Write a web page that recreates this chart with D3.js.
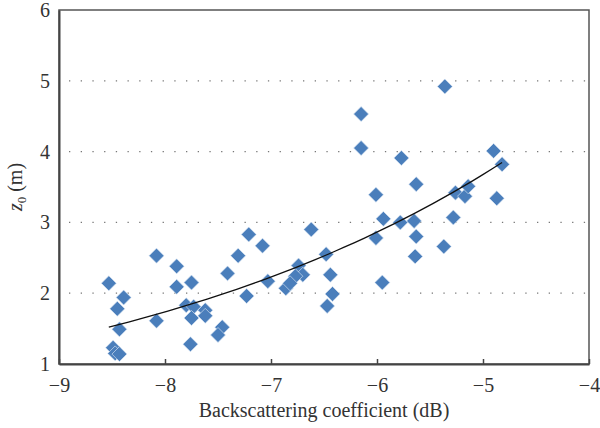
<!DOCTYPE html>
<html>
<head>
<meta charset="utf-8">
<script src="https://cdn.jsdelivr.net/npm/d3@7"></script>
<style>
  body { margin: 0; background: #fff; }
  text { font-family: "Liberation Serif", "DejaVu Serif", serif; fill: #333; }
</style>
</head>
<body>
<div id="chart"></div>
<script>
// Set up SVG frame
var svgWidth = 600;
var svgHeight = 428;

var Margin = { top: 10, right: 11, bottom: 64, left: 59 };

var width = svgWidth - Margin.left - Margin.right;
var height = svgHeight - Margin.top - Margin.bottom;

// data: backscattering coefficient (dB) and z0 (m)
var backscatter = [
  -8.53, -8.39, -8.45, -8.43, -8.49, -8.47, -8.43,
  -8.08, -8.08, -7.89, -7.89, -7.75, -7.80, -7.73, -7.75, -7.62, -7.62, -7.76,
  -7.46, -7.50, -7.41, -7.31, -7.21, -7.08, -7.23, -7.03,
  -6.86, -6.74, -6.70, -6.77, -6.82, -6.62, -6.48, -6.44, -6.42, -6.47,
  -6.01, -5.63, -5.94, -6.01, -5.78, -5.65, -5.63, -5.64, -5.95,
  -5.36, -6.15, -6.15, -5.77, -4.90, -4.82,
  -5.26, -5.17, -5.14, -4.87, -5.28, -5.37
];
var z0 = [
  2.14, 1.94, 1.78, 1.49, 1.23, 1.15, 1.14,
  2.53, 1.61, 2.38, 2.09, 2.15, 1.83, 1.81, 1.65, 1.76, 1.68, 1.28,
  1.52, 1.41, 2.28, 2.53, 2.83, 2.67, 1.96, 2.17,
  2.07, 2.39, 2.26, 2.24, 2.14, 2.90, 2.55, 2.26, 1.99, 1.82,
  3.39, 3.54, 3.05, 2.78, 3.00, 3.02, 2.80, 2.52, 2.15,
  4.92, 4.53, 4.05, 3.91, 4.01, 3.82,
  3.42, 3.37, 3.51, 3.34, 3.07, 2.66
];

var xTicks = [-9, -8, -7, -6, -5, -4];
var yTicks = [1, 2, 3, 4, 5, 6];
var gridValues = [2, 3, 4, 5];

var points = backscatter.map(function(d, i) { return { x: d, y: z0[i] }; });

var svg = d3.select("#chart")
            .append("svg")
            .attr("width", svgWidth)
            .attr("height", svgHeight);

var chartGroup = svg.append("g")
                    .attr("transform", `translate(${Margin.left}, ${Margin.top})`);

var xLinearScale = d3.scaleLinear().domain([-9, -4]).range([0, width]);
var yLinearScale = d3.scaleLinear().domain([1, 6]).range([height, 0]);

// dotted gridlines
chartGroup.selectAll(".grid")
  .data(gridValues)
  .enter()
  .append("line")
  .attr("class", "grid")
  .attr("x1", 0)
  .attr("x2", width)
  .attr("y1", d => yLinearScale(d))
  .attr("y2", d => yLinearScale(d))
  .attr("stroke", "#777")
  .attr("stroke-width", 1.3)
  .attr("stroke-dasharray", "1.3,10.4")
  .attr("stroke-dashoffset", -10);

// box
chartGroup.append("rect")
  .attr("width", width)
  .attr("height", height)
  .attr("fill", "none")
  .attr("stroke", "#555")
  .attr("stroke-width", 1.5);

// x axis (inward ticks)
var bottomAxis = d3.axisBottom(xLinearScale)
  .tickValues(xTicks)
  .tickSizeInner(-5)
  .tickSizeOuter(0)
  .tickPadding(14)
  .tickFormat(d => d < 0 ? "\u2212" + Math.abs(d) : d);

var xAxis = chartGroup.append("g")
  .attr("transform", `translate(0, ${height})`)
  .call(bottomAxis);

xAxis.select(".domain").attr("stroke", "#444").attr("stroke-width", 2);
xAxis.selectAll(".tick line").attr("stroke", "#444").attr("stroke-width", 1.5);
xAxis.selectAll("text").attr("font-size", "20px").attr("fill", "#333")
  .style("font-family", "Liberation Serif, serif");

// y axis (no ticks)
var leftAxis = d3.axisLeft(yLinearScale)
  .tickValues(yTicks)
  .tickSize(0)
  .tickPadding(9)
  .tickFormat(d3.format("d"));

var yAxis = chartGroup.append("g").call(leftAxis);
yAxis.select(".domain").attr("stroke", "#444").attr("stroke-width", 2);
yAxis.selectAll("text").attr("font-size", "20px").attr("fill", "#333")
  .style("font-family", "Liberation Serif, serif");

// exponential trendline fitted to the points (least squares on ln y)
var n = points.length;
var sx = d3.sum(points, d => d.x);
var sy = d3.sum(points, d => Math.log(d.y));
var sxx = d3.sum(points, d => d.x * d.x);
var sxy = d3.sum(points, d => d.x * Math.log(d.y));
var b = (n * sxy - sx * sy) / (n * sxx - sx * sx);
var a = Math.exp((sy - b * sx) / n);
var xMin = d3.min(backscatter), xMax = d3.max(backscatter);
var trend = d3.range(0, 41).map(function(i) {
  var x = xMin + (xMax - xMin) * i / 40;
  return { x: x, y: a * Math.exp(b * x) };
});

// markers
chartGroup.selectAll(".pt")
  .data(points)
  .enter()
  .append("path")
  .attr("class", "pt")
  .attr("d", d3.symbol().type(d3.symbolSquare).size(112))
  .attr("transform", d => `translate(${xLinearScale(d.x)}, ${yLinearScale(d.y)}) rotate(45)`)
  .attr("fill", "#4a7ebb")
  .attr("stroke", "#dbe6f4")
  .attr("stroke-width", 0.6);

chartGroup.append("path")
  .datum(trend)
  .attr("fill", "none")
  .attr("stroke", "#111")
  .attr("stroke-width", 1.3)
  .attr("d", d3.line().x(d => xLinearScale(d.x)).y(d => yLinearScale(d.y)));

// axis labels
svg.append("text")
  .attr("x", Margin.left + width / 2)
  .attr("y", 417)
  .attr("text-anchor", "middle")
  .attr("font-size", "20px")
  .text("Backscattering coefficient (dB)");

var yLabel = svg.append("text")
  .attr("transform", `translate(22, ${Margin.top + height / 2}) rotate(-90)`)
  .attr("text-anchor", "middle")
  .attr("font-size", "20px");
yLabel.append("tspan").attr("font-style", "italic").text("z");
yLabel.append("tspan").attr("font-size", "13px").attr("dy", 4).text("0");
yLabel.append("tspan").attr("dy", -4).text(" (m)");
</script>
</body>
</html>
